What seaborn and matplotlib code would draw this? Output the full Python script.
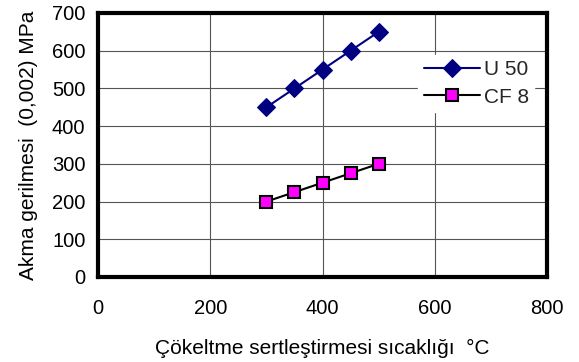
import matplotlib
matplotlib.use("Agg")
import matplotlib.pyplot as plt
import pandas as pd
import seaborn as sns

# values
temps = [300, 350, 400, 450, 500]
u50 = [450, 500, 550, 600, 650]
cf8 = [200, 225, 250, 275, 300]
x_ticks = [0, 200, 400, 600, 800]
y_ticks = [0, 100, 200, 300, 400, 500, 600, 700]

df = pd.DataFrame({
    "temp": temps * 2,
    "stress": u50 + cf8,
    "alloy": ["U 50"] * len(temps) + ["CF 8"] * len(temps),
})

sns.set_theme(style="white")
plt.rcParams["font.family"] = ["Liberation Sans", "DejaVu Sans"]

fig = plt.figure(figsize=(5.79, 3.62), dpi=100)
ax = fig.add_axes([98 / 579, 1 - 277 / 362, 449 / 579, 264 / 362])

sns.lineplot(data=df[df["alloy"] == "U 50"], x="temp", y="stress", ax=ax,
             color="#000080", marker="D", markersize=9, markerfacecolor="#000080",
             markeredgecolor="#000080", linewidth=1.5, label="U 50")
sns.lineplot(data=df[df["alloy"] == "CF 8"], x="temp", y="stress", ax=ax,
             color="black", marker="s", markersize=8.5, markerfacecolor="#ff00ff",
             markeredgecolor="black", markeredgewidth=1.5, linewidth=1.5, label="CF 8")

ax.set_xlim(0, 800)
ax.set_ylim(0, 700)
ax.set_xticks(x_ticks)
ax.set_yticks(y_ticks)
ax.grid(True, color="#555555", linewidth=0.8)
ax.set_axisbelow(True)
for s in ax.spines.values():
    s.set_linewidth(3)
    s.set_color("black")
ax.tick_params(length=0, labelsize=14.5, colors="black")
ax.tick_params(axis="x", pad=16)
ax.tick_params(axis="y", pad=9)

ax.set_xlabel("Çökeltme sertleştirmesi sıcaklığı  °C", fontsize=15, labelpad=15, color="black")
ax.set_ylabel("Akma gerilmesi  (0,002) MPa", fontsize=15, labelpad=10, color="black")

leg = ax.legend(loc="upper right", bbox_to_anchor=(0.995, 0.88), frameon=True,
                fontsize=15, handlelength=2.7, handletextpad=0.2,
                borderpad=0.25, labelspacing=0.4, fancybox=False)
leg.get_frame().set_facecolor("white")
leg.get_frame().set_edgecolor("white")
leg.get_frame().set_alpha(1)

fig.savefig("out.png", dpi=100)
